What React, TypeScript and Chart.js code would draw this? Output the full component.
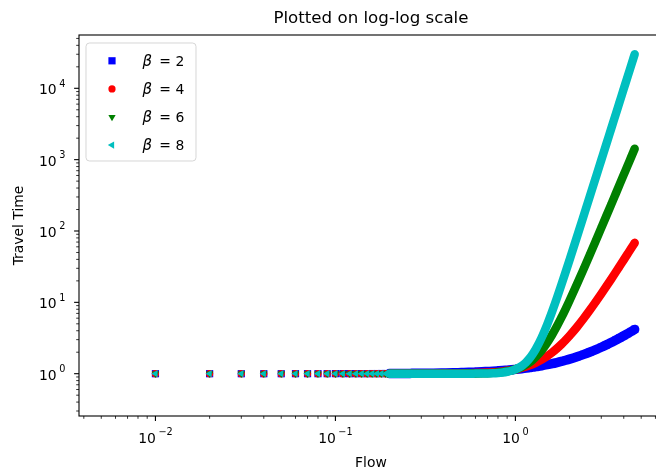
import { useEffect, useRef } from 'react';
import { Chart, registerables } from 'chart.js';
import { drawPoint } from 'chart.js/helpers';

Chart.register(...registerables);

// Flow values (x) shared by every series
const flows = [
  0.01, 0.02, 0.03, 0.04, 0.05, 0.06, 0.07, 0.08, 0.09, 0.10,
  0.11, 0.12, 0.13, 0.14, 0.15, 0.16, 0.17, 0.18, 0.19, 0.20,
  0.21, 0.22, 0.23, 0.24, 0.25, 0.26, 0.27, 0.28, 0.29, 0.30,
  0.35, 0.40, 0.45, 0.50, 0.55, 0.60, 0.65, 0.70, 0.75, 0.80,
  0.85, 0.90, 0.95, 1.00, 1.05, 1.10, 1.15, 1.20, 1.25, 1.30,
  1.40, 1.50, 1.60, 1.70, 1.80, 1.90, 2.00,
  2.20, 2.40, 2.60, 2.80, 3.00, 3.20, 3.40, 3.60, 3.80, 4.00, 4.20, 4.40, 4.60,
];

// Travel time for each beta
const timeBeta2 = [
  1.000, 1.000, 1.000, 1.000, 1.000, 1.001, 1.001, 1.001, 1.001, 1.002,
  1.002, 1.002, 1.003, 1.003, 1.003, 1.004, 1.004, 1.005, 1.005, 1.006,
  1.007, 1.007, 1.008, 1.009, 1.009, 1.010, 1.011, 1.012, 1.013, 1.014,
  1.018, 1.024, 1.030, 1.038, 1.045, 1.054, 1.063, 1.074, 1.084, 1.096,
  1.108, 1.122, 1.135, 1.150, 1.165, 1.182, 1.198, 1.216, 1.234, 1.254,
  1.294, 1.338, 1.384, 1.434, 1.486, 1.542, 1.600,
  1.726, 1.864, 2.014, 2.176, 2.350, 2.536, 2.734, 2.944, 3.166, 3.400, 3.646, 3.904, 4.174,
];
const timeBeta4 = [
  1.000, 1.000, 1.000, 1.000, 1.000, 1.000, 1.000, 1.000, 1.000, 1.000,
  1.000, 1.000, 1.000, 1.000, 1.000, 1.000, 1.000, 1.000, 1.000, 1.000,
  1.000, 1.000, 1.000, 1.000, 1.001, 1.001, 1.001, 1.001, 1.001, 1.001,
  1.002, 1.004, 1.006, 1.009, 1.014, 1.019, 1.027, 1.036, 1.047, 1.061,
  1.078, 1.098, 1.122, 1.150, 1.182, 1.220, 1.262, 1.311, 1.366, 1.428,
  1.576, 1.759, 1.983, 2.253, 2.575, 2.955, 3.400,
  4.514, 5.977, 7.855, 10.22, 13.15, 16.73, 21.05, 26.19, 32.28, 39.40, 47.68, 57.22, 68.16,
];
const timeBeta6 = [
  1.000, 1.000, 1.000, 1.000, 1.000, 1.000, 1.000, 1.000, 1.000, 1.000,
  1.000, 1.000, 1.000, 1.000, 1.000, 1.000, 1.000, 1.000, 1.000, 1.000,
  1.000, 1.000, 1.000, 1.000, 1.000, 1.000, 1.000, 1.000, 1.000, 1.000,
  1.000, 1.001, 1.001, 1.002, 1.004, 1.007, 1.011, 1.018, 1.027, 1.039,
  1.057, 1.080, 1.110, 1.150, 1.201, 1.266, 1.347, 1.448, 1.572, 1.724,
  2.129, 2.709, 3.517, 4.621, 6.102, 8.057, 10.60,
  18.01, 29.67, 47.34, 73.28, 110.4, 162.1, 232.7, 327.5, 452.6, 615.4, 824.4, 1089, 1422,
];
const timeBeta8 = [
  1.000, 1.000, 1.000, 1.000, 1.000, 1.000, 1.000, 1.000, 1.000, 1.000,
  1.000, 1.000, 1.000, 1.000, 1.000, 1.000, 1.000, 1.000, 1.000, 1.000,
  1.000, 1.000, 1.000, 1.000, 1.000, 1.000, 1.000, 1.000, 1.000, 1.000,
  1.000, 1.000, 1.000, 1.001, 1.001, 1.003, 1.005, 1.009, 1.015, 1.025,
  1.041, 1.065, 1.100, 1.150, 1.222, 1.322, 1.459, 1.645, 1.894, 2.224,
  3.214, 4.844, 7.442, 11.46, 17.53, 26.48, 39.40,
  83.31, 166.1, 314.2, 567.7, 985.2, 1650, 2680, 4233, 6523, 9831, 14520, 21070, 30070,
];

const betaLabels = ['2', '4', '6', '8'];
const xTickExponents = [-2, -1, 0];
const yTickExponents = [0, 1, 2, 3, 4];
const xRange = [0.003761, 6.6];
const yRange = [0.2553, 55850];

const TITLE = 'Plotted on log-log scale';
const X_LABEL = 'Flow';
const Y_LABEL = 'Travel Time';

const FONT = '"DejaVu Sans", "Liberation Sans", sans-serif';
const TICK_PX = 13.9;
const SUP_PX = 9.7;
const SUP_GAP = 2.5;
const SUP_RISE = 7.7;
const BAND_START = 0.195;

const markerStyles = [
  { color: '#0000ff', pointStyle: 'rect', rotation: 0, radius: 5.1, band: 9.5 },
  { color: '#ff0000', pointStyle: 'circle', rotation: 0, radius: 3.6, band: 8.5 },
  { color: '#008000', pointStyle: 'triangle', rotation: 180, radius: 4.2, band: 8.5 },
  { color: '#00bfbf', pointStyle: 'triangle', rotation: 270, radius: 4.2, band: 8.5 },
];

const seriesValues = [timeBeta2, timeBeta4, timeBeta6, timeBeta8];

function drawPower(ctx: CanvasRenderingContext2D, exp: number, x: number, y: number, align: 'center' | 'right') {
  const base = '10';
  const sup = exp < 0 ? '\u2212' + Math.abs(exp) : String(exp);
  ctx.font = `${TICK_PX}px ${FONT}`;
  const wb = ctx.measureText(base).width;
  ctx.font = `${SUP_PX}px ${FONT}`;
  const ws = ctx.measureText(sup).width;
  const total = wb + SUP_GAP + ws;
  const x0 = align === 'center' ? x - total / 2 : x - total;
  ctx.textAlign = 'left';
  ctx.textBaseline = 'alphabetic';
  ctx.font = `${TICK_PX}px ${FONT}`;
  ctx.fillText(base, x0, y);
  ctx.font = `${SUP_PX}px ${FONT}`;
  ctx.fillText(sup, x0 + wb + SUP_GAP, y - SUP_RISE);
}

function minorValues(min: number, max: number) {
  const out: number[] = [];
  const lo = Math.floor(Math.log10(min));
  const hi = Math.ceil(Math.log10(max));
  for (let e = lo; e <= hi; e++) {
    for (let m = 2; m <= 9; m++) {
      const v = m * Math.pow(10, e);
      if (v >= min && v <= max) out.push(v);
    }
  }
  return out;
}

const axesDecor = {
  id: 'axesDecor',
  afterDraw(chart: any) {
    const ctx: CanvasRenderingContext2D = chart.ctx;
    const { left, right, top, bottom } = chart.chartArea;
    const xs = chart.scales.x;
    const ys = chart.scales.y;
    ctx.save();
    ctx.fillStyle = '#000';
    ctx.strokeStyle = '#000';

    // frame
    ctx.lineWidth = 1.1;
    ctx.strokeRect(left, top, right - left, bottom - top);

    // x ticks
    ctx.lineWidth = 0.8;
    for (const v of minorValues(xRange[0], xRange[1])) {
      const px = xs.getPixelForValue(v);
      ctx.beginPath();
      ctx.moveTo(px, bottom);
      ctx.lineTo(px, bottom + 2.8);
      ctx.stroke();
    }
    ctx.lineWidth = 1.1;
    for (const e of xTickExponents) {
      const px = xs.getPixelForValue(Math.pow(10, e));
      ctx.beginPath();
      ctx.moveTo(px, bottom);
      ctx.lineTo(px, bottom + 4.9);
      ctx.stroke();
      drawPower(ctx, e, px, bottom + 26.7, 'center');
    }

    // y ticks
    ctx.lineWidth = 0.8;
    for (const v of minorValues(yRange[0], yRange[1])) {
      const py = ys.getPixelForValue(v);
      ctx.beginPath();
      ctx.moveTo(left, py);
      ctx.lineTo(left - 2.8, py);
      ctx.stroke();
    }
    ctx.lineWidth = 1.1;
    for (const e of yTickExponents) {
      const py = ys.getPixelForValue(Math.pow(10, e));
      ctx.beginPath();
      ctx.moveTo(left, py);
      ctx.lineTo(left - 4.9, py);
      ctx.stroke();
      drawPower(ctx, e, left - 13.7, py + 6, 'right');
    }

    // title and axis labels
    const cx = (left + right) / 2;
    ctx.textAlign = 'center';
    ctx.textBaseline = 'alphabetic';
    ctx.font = `16.67px ${FONT}`;
    ctx.fillText(TITLE, cx, top - 11.8);
    ctx.font = `${TICK_PX}px ${FONT}`;
    ctx.fillText(X_LABEL, cx, bottom + 50.7);
    ctx.save();
    ctx.translate(23, (top + bottom) / 2);
    ctx.rotate(-Math.PI / 2);
    ctx.fillText(Y_LABEL, 0, 0);
    ctx.restore();

    // legend
    const bx = left + 7;
    const by = top + 8;
    const bw = 110;
    const bh = 118;
    ctx.beginPath();
    ctx.roundRect(bx, by, bw, bh, 3.5);
    ctx.fillStyle = 'rgba(255,255,255,0.8)';
    ctx.fill();
    ctx.lineWidth = 1;
    ctx.strokeStyle = 'rgba(204,204,204,0.8)';
    ctx.stroke();
    betaLabels.forEach((label, i) => {
      const m = markerStyles[i];
      const ry = by + 17.8 + i * 28.1;
      ctx.fillStyle = m.color;
      drawPoint(ctx, { pointStyle: m.pointStyle as any, rotation: m.rotation, radius: m.radius, borderWidth: 0 } as any, bx + 26, ry);
      ctx.fillStyle = '#000';
      ctx.textBaseline = 'alphabetic';
      ctx.textAlign = 'left';
      ctx.font = `italic 15px ${FONT}`;
      ctx.fillText('\u03b2', bx + 56.5, ry + 4.9);
      ctx.font = `${TICK_PX}px ${FONT}`;
      ctx.textAlign = 'center';
      ctx.fillText('=', bx + 79, ry + 4.9);
      ctx.textAlign = 'left';
      ctx.fillText(label, bx + 89.5, ry + 4.9);
    });
    ctx.restore();
  },
};

export default function App() {
  const canvasRef = useRef<HTMLCanvasElement>(null);

  useEffect(() => {
    const canvas = canvasRef.current;
    if (!canvas) return;
    const datasets = seriesValues.map((values, i) => {
      const m = markerStyles[i];
      return {
        label: '\u03b2 = ' + betaLabels[i],
        data: flows.map((f, k) => ({ x: f, y: values[k] })),
        showLine: true,
        borderColor: m.color,
        borderWidth: m.band,
        borderCapStyle: 'round',
        borderJoinStyle: 'round',
        backgroundColor: m.color,
        pointStyle: m.pointStyle,
        pointRotation: m.rotation,
        pointRadius: m.radius,
        pointHoverRadius: m.radius,
        pointBackgroundColor: m.color,
        pointBorderWidth: 0,
        cubicInterpolationMode: 'monotone',
        order: betaLabels.length - i,
        segment: {
          borderColor: (c: any) => (c.p0.parsed.x < BAND_START ? 'rgba(0,0,0,0)' : m.color),
        },
      };
    });

    const chart = new Chart(canvas, {
      type: 'scatter',
      data: { datasets: datasets as any },
      options: {
        animation: false,
        responsive: false,
        devicePixelRatio: 1,
        events: [],
        layout: { padding: { left: 79, top: 35, right: 3, bottom: 58 } },
        scales: {
          x: { type: 'logarithmic', min: xRange[0], max: xRange[1], display: false },
          y: { type: 'logarithmic', min: yRange[0], max: yRange[1], display: false },
        },
        plugins: {
          legend: { display: false },
          tooltip: { enabled: false },
          title: { display: false },
        },
      },
      plugins: [axesDecor],
    });
    return () => chart.destroy();
  }, []);

  return (
    <div style={{ position: 'fixed', left: 0, top: 0, width: 656, height: 474, overflow: 'hidden', background: '#ffffff' }}>
      <canvas ref={canvasRef} width={668} height={474} style={{ display: 'block' }} />
    </div>
  );
}
